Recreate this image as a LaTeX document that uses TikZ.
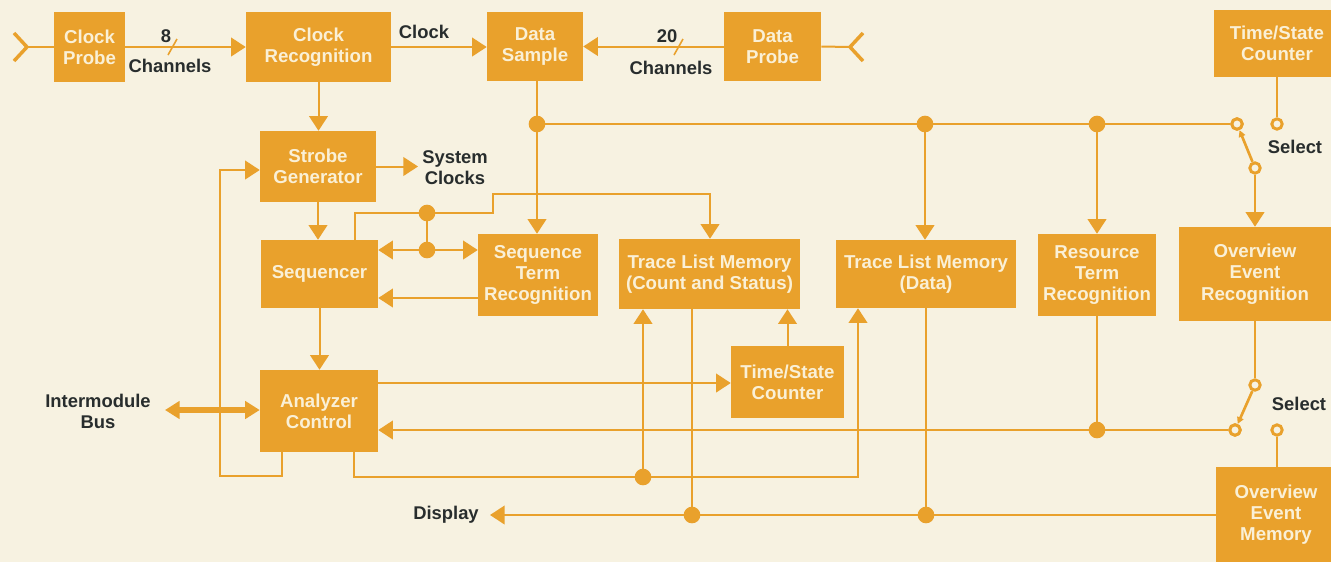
\documentclass[tikz,border=0pt]{standalone}
\usepackage{fontspec}
\setmainfont{Liberation Sans}
\usetikzlibrary{arrows.meta,calc}
\definecolor{bg}{RGB}{247,242,225}
\definecolor{org}{RGB}{233,161,44}
\definecolor{boxtxt}{RGB}{250,240,214}
\definecolor{lbl}{RGB}{40,45,45}
\tikzset{
  box/.style={fill=org, inner sep=0pt, text=boxtxt, font=\fontsize{14}{16}\selectfont\bfseries, align=center},
  lab/.style={text=lbl, font=\fontsize{13.8}{15}\selectfont\bfseries, align=center, inner sep=0pt},
  lab2/.style={text=lbl, font=\fontsize{13.8}{16}\selectfont\bfseries, align=center, inner sep=0pt},
  wire/.style={draw=org, line width=1.5pt},
  arr/.style={wire, -{Triangle[length=11pt,width=14pt]}},
  bus/.style={draw=org, line width=3.8pt, {Triangle[length=11pt,width=13pt]}-{Triangle[length=11pt,width=13pt]}},
  blade/.style={draw=org, line width=2pt, -{Triangle[length=5pt,width=5pt]}},
  chev/.style={draw=org, line width=2.6pt},
  dot/.style={circle, fill=org, inner sep=0pt, minimum size=12.5pt},
  ocirc/.style={circle, draw=org, line width=2.2pt, fill=bg, inner sep=0pt, minimum size=7.8pt},
}
\begin{document}
\begin{tikzpicture}[x=0.75pt,y=-0.75pt]
\useasboundingbox (0,0) rectangle (1331,562);
\fill[bg] (0,0) rectangle (1331,562);
\clip (0,0) rectangle (1331,562);

% boxes
\node[box, minimum width=53.25pt, minimum height=52.5pt] (cprobe) at (89.5,47) {Clock\\Probe};
\node[box, minimum width=108.75pt, minimum height=52.5pt] (crec) at (318.5,47) {Clock\\Recognition};
\node[box, minimum width=72pt, minimum height=51.75pt] (dsample) at (535,46.5) {Data\\Sample};
\node[box, minimum width=72.75pt, minimum height=51.75pt] (dprobe) at (772.5,46.5) {Data\\Probe};
\node[box, minimum width=94.5pt, minimum height=50.25pt] (tsc1) at (1277,43.5) {Time/State\\Counter};
\node[box, minimum width=87pt, minimum height=53.25pt] (strobe) at (318,166.5) {Strobe\\Generator};
\node[box, minimum width=87.75pt, minimum height=51pt] (seq) at (319.5,274) {Sequencer};
\node[box, minimum width=88.5pt, minimum height=61.5pt] (actl) at (319,411) {Analyzer\\Control};
\node[box, minimum width=90pt, minimum height=61.5pt] (str) at (538,275) {Sequence\\Term\\Recognition};
\node[box, minimum width=135.75pt, minimum height=52.5pt] (tlmcs) at (709.5,274) {Trace List Memory\\(Count and Status)};
\node[box, minimum width=135pt, minimum height=51pt] (tlmd) at (926,274) {Trace List Memory\\(Data)};
\node[box, minimum width=88.5pt, minimum height=61.5pt] (rtr) at (1097,275) {Resource\\Term\\Recognition};
\node[box, minimum width=114pt, minimum height=70.5pt] (oer) at (1255,274) {Overview\\Event\\Recognition};
\node[box, minimum width=84.75pt, minimum height=54pt] (tsc2) at (787.5,382) {Time/State\\Counter};
\node[box, minimum width=90pt, minimum height=71.25pt] (oem) at (1276,514.5) {Overview\\Event\\Memory};

% probes
\coordinate (inL) at (27,47);
\draw[chev] (14,33) -- (inL) -- (14,61);
\draw[wire] (inL) -- (cprobe);
\coordinate (inR) at (850,47);
\draw[chev] (863,33) -- (inR) -- (863,61);
\draw[wire] (dprobe.east) -- (inR);

\draw[arr] (cprobe) -- (crec);
\draw[arr] (crec.east) -- (crec.east -| dsample.west);
\draw[arr] (dprobe.west) -- (dprobe.west -| dsample.east);
\draw[wire, line width=1.2pt] (168,55) -- (177,39);
\draw[wire, line width=1.2pt] (674,55) -- (683,39);
\node[lab, anchor=base] at (166,42) {8};
\node[lab, anchor=base] at (170,72) {Channels};
\node[lab, anchor=base] at (424,38) {Clock};
\node[lab, anchor=base] at (667,42) {20};
\node[lab, anchor=base] at (671,74) {Channels};

% main column
\draw[arr] (crec.south) -- (crec.south |- strobe.north);
\draw[arr] (strobe.south) -- (strobe.south |- seq.north);
\draw[arr] (seq.south) -- (seq.south |- actl.north);
\coordinate (sysclk) at (418,0);
\draw[arr] (strobe.east) -- (strobe.east -| sysclk);
\node[lab2] (syslab) at (455,167.5) {System\\Clocks};

% feedback loop
\coordinate (fbA) at (282,476);
\coordinate (fbB) at (220,476);
\coordinate (fbC) at (220,170);
\draw[arr] (actl.south -| fbA) -- (fbA) -- (fbB) -- (fbC) -- (fbC -| strobe.west);

% intermodule bus
\coordinate (imb) at (165,410);
\draw[bus] (imb) -- (imb -| actl.west);
\node[lab2] at (98,411.5) {Intermodule\\Bus};

% analyzer control bottom right
\coordinate (bA) at (354,477);
\coordinate (bB) at (858,477);
\coordinate (bD) at (643,477);
\draw[arr] (actl.south -| bA) -- (bA) -- (bB) -- (bB |- tlmd.south);
\draw[arr] (bD) -- (bD |- tlmcs.south);
\node[dot] at (bD) {};

% analyzer -> time/state counter
\coordinate (tA) at (378,383);
\draw[arr] (actl.east |- tA) -- (tA -| tsc2.west);
\draw[arr] (tsc2.north) -- (tsc2.north |- tlmcs.south);

% display bus
\coordinate (disp) at (490,515);
\coordinate (dA) at (692,515);
\coordinate (dB) at (926,515);
\draw[arr] (oem.west |- disp) -- (disp);
\draw[wire] (tlmcs.south -| dA) -- (dA);
\draw[wire] (tlmd.south) -- (dB);
\node[dot] at (dA) {};
\node[dot] at (dB) {};
\node[lab, anchor=base] at (446,519) {Display};

% data sample bus
\coordinate (sA) at (537,124);
\coordinate (sB) at (925,124);
\coordinate (sC) at (1097,124);
\node[ocirc] (c1) at (1237,124) {};
\node[ocirc] (c2) at (1277,124) {};
\node[ocirc] (p1) at (1255,168) {};
\draw[arr] (dsample.south -| sA) -- (sA |- str.north);
\draw[wire] (sA) -- (c1);
\draw[arr] (sB) -- (sB |- tlmd.north);
\draw[arr] (sC) -- (sC |- rtr.north);
\node[dot] at (sA) {};
\node[dot] at (sB) {};
\node[dot] at (sC) {};
\draw[wire] (tsc1.south -| c2) -- (c2);
\draw[arr] (p1) -- (p1 |- oer.north);
\draw[blade] (p1) -- (c1);
\node[ocirc] at (c1) {};
\node[lab, anchor=base] at (1295,153) {Select};

% lower switch
\node[ocirc] (p2) at (1255,385) {};
\node[ocirc] (c3) at (1235,430) {};
\node[ocirc] (c4) at (1277,430) {};
\coordinate (rA) at (1097,430);
\draw[wire] (oer.south -| p2) -- (p2);
\draw[blade] (p2) -- (c3);
\draw[wire] (c4) -- (c4 |- oem.north);
\draw[arr] (c3) -- (c3 -| actl.east);
\draw[wire] (rtr.south) -- (rtr.south |- rA);
\node[dot] at (rA) {};
\node[ocirc] at (c3) {};
\node[lab, anchor=base] at (1299,410) {Select};

% sequencer / sequence term recognition
\coordinate (qA) at (355,213);
\coordinate (qB) at (427,213);
\coordinate (qC) at (493,213);
\coordinate (qD) at (493,194);
\coordinate (qE) at (710,194);
\coordinate (qF) at (427,250);
\coordinate (qG) at (478,298);
\draw[arr] (seq.north -| qA) -- (qA) -- (qC) -- (qD) -- (qE) -- (qE |- tlmcs.north);
\draw[wire] (qB) -- (qF);
\draw[arr] (qF) -- (qF -| seq.east);
\draw[arr] (qF) -- (qF -| str.west);
\draw[arr] (str.west |- qG) -- (qG -| seq.east);
\node[dot] at (qB) {};
\node[dot] at (qF) {};
\end{tikzpicture}
\end{document}
